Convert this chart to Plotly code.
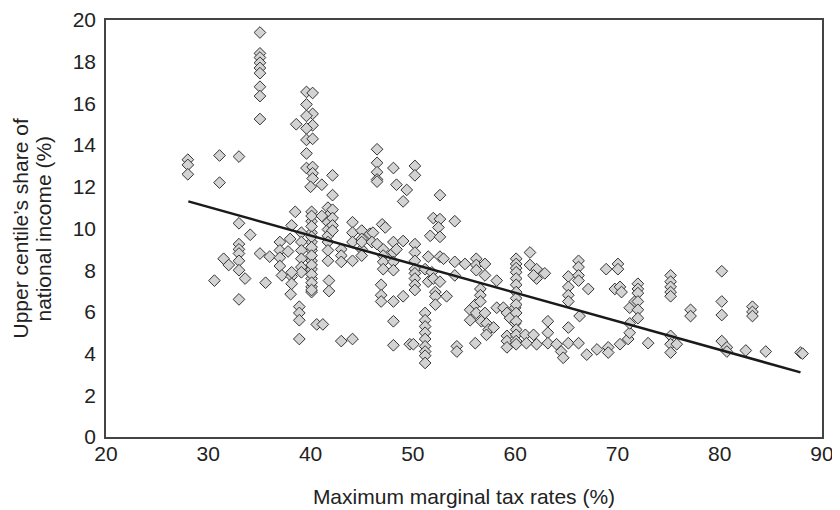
import plotly.graph_objects as go

# ---- data ----
tax_rate = [
    28.0, 28.0, 28.0, 31.1, 33.0, 31.1,
    35.05, 35.05, 35.05, 35.05, 35.05, 35.05, 35.05, 35.05, 35.05,
    38.6, 38.5, 33.0, 34.1, 33.0, 33.0, 33.0, 33.0,
    31.5, 32.0, 33.0, 33.6, 30.6, 33.0,
    35.05, 36.0, 35.6,
    37.0, 37.0, 37.0, 37.8, 38.0, 37.0, 37.2, 38.15, 38.05,
    38.9, 38.9, 38.9, 38.9,
    39.6, 40.2, 39.6, 40.2, 39.6, 40.2, 39.6, 39.6, 40.2, 39.6, 39.6, 40.2, 40.2, 40.2, 40.0,
    41.1, 42.15, 42.15,
    40.1, 40.1, 40.1, 40.1, 40.1, 40.1, 40.1, 40.1, 40.1, 40.1,
    40.1, 40.1, 40.1, 40.1, 40.1, 40.1, 40.1, 40.1, 40.1,
    39.1, 39.1, 39.1, 39.1, 39.1, 39.1,
    38.15, 38.15, 38.15,
    40.6, 41.2,
    41.7, 41.7, 41.7, 41.7, 41.7, 41.7, 41.7, 41.7,
    42.15, 42.15, 42.15, 42.15,
    41.1, 41.8, 41.8,
    43.0, 43.0, 43.0,
    44.1, 44.1, 44.1, 45.0, 45.0, 45.0, 44.1, 45.0, 45.8, 46.1, 45.0,
    43.0, 44.1,
    46.5, 46.5, 46.5, 46.5, 46.5,
    48.1, 48.4, 49.4, 49.05,
    47.0, 47.3,
    46.0, 46.5, 47.1, 47.1, 47.1, 47.1,
    48.1, 48.1, 48.1, 48.1, 48.4, 49.05,
    46.9, 46.9, 46.9,
    48.1, 49.05, 48.1, 48.1, 49.7,
    50.2, 50.2,
    52.65, 52.0, 52.65, 54.1, 52.5, 51.7, 52.65,
    50.2, 50.2, 50.2, 50.2, 50.2, 50.2, 50.2, 50.2,
    51.2, 51.5, 51.85, 51.5, 52.0, 52.65, 52.2, 52.2, 52.2, 53.3, 52.65, 53.0,
    54.1, 54.1, 55.1, 56.2, 56.2, 56.2, 57.05, 57.05, 58.2,
    51.2, 51.2, 51.2, 51.2, 51.2, 51.2, 51.2, 51.2, 51.2,
    50.05, 54.3, 54.3, 56.1,
    55.6, 55.6, 56.1, 56.2, 56.6, 56.6, 56.6, 56.7, 57.05, 57.2, 57.4, 57.9, 57.2,
    58.2, 58.85, 59.2, 59.5, 59.2, 59.2, 59.2, 60.0, 60.0,
    60.1, 60.1, 60.1, 60.1, 60.1, 60.1, 60.1, 60.1, 60.1, 60.1, 60.1, 60.1, 60.1, 60.1, 60.1,
    61.45, 61.45, 62.1, 62.1, 62.9, 61.8,
    61.0, 61.8, 62.1, 61.1,
    63.2, 63.2, 63.2, 64.05, 64.5, 64.7, 65.2, 65.2, 66.2, 66.3, 67.0, 68.0,
    69.1, 69.1, 70.25, 71.05, 71.2,
    65.2, 65.2, 65.2, 65.2, 66.2, 66.2, 66.2, 66.2, 67.15,
    68.9, 70.05, 70.05, 69.75, 70.25, 70.4,
    71.2, 71.7, 71.2,
    72.0, 72.0, 72.0, 72.0, 72.0, 72.0,
    73.0,
    75.2, 75.2, 75.2, 75.2, 75.2, 75.2, 75.2, 75.2, 75.8,
    77.15, 77.15,
    80.2, 80.2, 80.2, 80.2, 80.7, 80.7,
    82.55, 83.2, 83.2, 83.2, 84.5, 87.9, 88.1,
]

income_share = [
    13.3, 13.05, 12.6, 13.5, 13.45, 12.2,
    19.4, 18.4, 18.2, 17.95, 17.7, 17.45, 16.8, 16.35, 15.25,
    15.0, 10.8, 10.25, 9.7, 9.25, 9.0, 8.8, 8.45,
    8.55, 8.25, 8.0, 7.6, 7.5, 6.6,
    8.8, 8.65, 7.4,
    9.35, 8.95, 8.6, 8.9, 9.5, 8.2, 7.75, 7.7, 6.85,
    6.25, 5.95, 5.6, 4.7,
    16.55, 16.5, 15.95, 15.5, 15.4, 14.95, 14.8, 14.25, 14.3, 13.6, 12.9, 12.95, 12.65, 12.4, 12.0,
    12.1, 11.6, 12.55,
    10.8, 10.35, 9.8, 9.35, 8.95, 8.45, 8.05, 7.6, 7.2, 6.95,
    10.6, 10.1, 9.6, 9.1, 8.7, 8.25, 7.8, 7.4, 7.05,
    9.8, 9.35, 8.95, 8.55, 8.15, 7.9,
    10.15, 7.9, 7.35,
    5.4, 5.4,
    11.0, 10.6, 10.3, 9.95, 9.65, 9.35, 8.95, 8.45,
    10.9, 10.5, 10.15, 9.9,
    10.6, 7.5, 7.0,
    9.0, 8.7, 8.4,
    10.3, 9.8, 9.35, 9.9, 9.5, 9.0, 8.45, 8.7, 9.75, 9.8, 9.35,
    4.6, 4.7,
    13.8, 13.15, 12.7, 12.35, 12.25,
    12.9, 12.1, 11.85, 11.3,
    10.2, 10.05,
    9.35, 9.25, 9.0, 8.7, 8.4, 8.05,
    9.35, 8.85, 8.4, 8.0, 9.0, 9.4,
    7.3, 6.8, 6.5,
    6.5, 6.75, 5.55, 4.4, 4.45,
    13.0, 12.55,
    11.6, 10.5, 10.45, 10.35, 10.05, 9.65, 9.6,
    9.25, 8.85, 8.45, 8.05, 7.85, 7.6, 7.3, 7.05,
    8.05, 8.65, 7.9, 7.45, 7.6, 7.45, 6.95, 6.75, 6.35, 6.75, 8.65, 8.55,
    8.4, 7.75, 8.3, 8.55, 8.25, 8.0, 8.3, 7.75, 7.5,
    5.95, 5.6, 5.3, 5.0, 4.7, 4.35, 4.1, 3.9, 3.55,
    4.45, 4.35, 4.1, 4.5,
    6.1, 5.6, 6.35, 5.95, 7.1, 6.8, 6.5, 5.55, 5.95, 5.45, 5.15, 5.25, 4.9,
    6.2, 6.2, 5.95, 5.7, 4.85, 4.6, 4.3, 6.2, 5.45,
    8.55, 8.3, 8.1, 7.9, 7.6, 7.3, 6.95, 6.65, 6.35, 5.95, 5.55, 5.15, 4.9, 4.6, 4.45,
    8.85, 8.25, 8.05, 7.6, 7.85, 7.75,
    4.9, 4.9, 4.45, 4.5,
    5.55, 5.0, 4.5, 4.45, 4.1, 3.8, 5.25, 4.5, 4.5, 5.8, 3.95, 4.2,
    4.3, 4.05, 4.45, 4.7, 5.0,
    7.7, 7.2, 6.8, 6.5, 8.45, 8.15, 7.75, 7.5, 7.1,
    8.05, 8.3, 8.05, 7.1, 7.2, 6.95,
    6.2, 6.5, 5.45,
    7.35, 7.1, 6.9, 6.5, 6.1, 5.7,
    4.5,
    7.75, 7.45, 7.2, 6.95, 6.75, 4.85, 4.45, 4.05, 4.45,
    6.1, 5.8,
    7.95, 6.5, 5.85, 4.6, 4.3, 4.1,
    4.15, 6.25, 6.0, 5.8, 4.1, 4.05, 4.0,
]

# fitted trend line end points
trend_x = [28.05, 87.9]
trend_y = [11.3, 3.1]

x_ticks = [20, 30, 40, 50, 60, 70, 80, 90]
y_ticks = [0, 2, 4, 6, 8, 10, 12, 14, 16, 18, 20]

x_title = "Maximum marginal tax rates (%)"
y_title_lines = ["Upper centile\u2019s share of", "national income (%)"]

FONT = "Liberation Sans, Arial, Helvetica, sans-serif"
FS = 21

# the page body has an 8px default margin, so the figure is drawn 8px right/down;
# margins below are compensated so the plot box lands at about x 106-822, y 20-437
L, R, T, B = 98, 26, 12, 81
PLOT_W = 840 - L - R

fig = go.Figure()
fig.add_trace(go.Scatter(
    x=tax_rate, y=income_share, mode="markers",
    marker=dict(symbol="diamond", size=9, color="#d3d3d3",
                line=dict(color="#333333", width=1)),
    showlegend=False, hoverinfo="x+y",
))
fig.add_trace(go.Scatter(
    x=trend_x, y=trend_y, mode="lines",
    line=dict(color="#1a1a1a", width=2.5),
    showlegend=False, hoverinfo="skip",
))

fig.update_layout(
    width=840, height=510,
    margin=dict(l=L, r=R, t=T, b=B),
    paper_bgcolor="white", plot_bgcolor="white",
    font=dict(family=FONT, size=FS, color="#222222"),
    xaxis=dict(
        range=[20, 90], tickvals=x_ticks, ticktext=[str(v) for v in x_ticks],
        showgrid=False, zeroline=False, showline=True, mirror=True,
        linecolor="#444444", linewidth=1.5, ticks="", ticklabelstandoff=-3,
        ticklabeloverflow="allow",
        tickfont=dict(size=FS), automargin=False,
        title=dict(text=x_title, font=dict(size=FS), standoff=25),
    ),
    yaxis=dict(
        range=[0, 20], tickvals=y_ticks, ticktext=[str(v) for v in y_ticks],
        showgrid=False, zeroline=False, showline=True, mirror=True,
        linecolor="#444444", linewidth=1.5, ticks="", ticklabelstandoff=4,
        ticklabeloverflow="allow",
        tickfont=dict(size=FS), automargin=False,
    ),
)

# two-line y-axis title, drawn as rotated text with the reference's tight line spacing
for xpx, line in zip([20 - 8, 43 - 8], y_title_lines):
    fig.add_annotation(
        text=line, textangle=-90, showarrow=False,
        xref="paper", yref="paper",
        x=(xpx - L) / PLOT_W, y=0.5, xanchor="center", yanchor="middle",
        font=dict(size=FS, family=FONT, color="#222222"),
    )

fig.write_html("out.html")
